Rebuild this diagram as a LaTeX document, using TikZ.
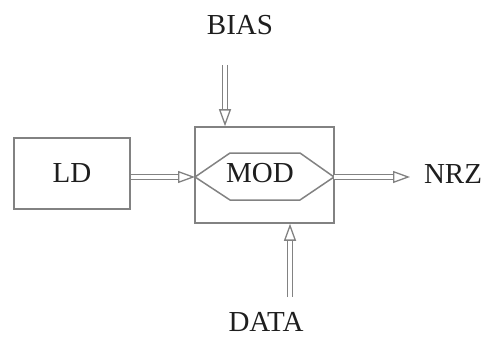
\documentclass[tikz,border=0pt]{standalone}
\usepackage{fontspec}
\setmainfont{Liberation Serif}
\usetikzlibrary{arrows.meta}
\definecolor{kasumi}{RGB}{130,130,130}
\definecolor{sumi}{RGB}{30,30,30}

\begin{document}
\begin{tikzpicture}[x=1pt, y=-1pt,
    lbl/.style={text=sumi, font=\fontsize{29}{32}\selectfont, inner sep=2pt},
    blok/.style={draw=kasumi, line width=1.5pt, inner sep=0pt},
    dbl/.style={draw=kasumi, line width=1.3pt, double=white, double distance=3.6pt,
        -{Triangle[open, length=17pt, width=12pt]}}]
    \useasboundingbox (0, 0) rectangle (486, 339);

    \node[blok, minimum width=116pt, minimum height=71pt] (ld) at (72, 173.5) {};
    \node[lbl] at (ld.center) {LD};
    \node[blok, minimum width=139pt, minimum height=96pt] (modbox) at (264.5, 175) {};

    % hexagon of the modulator
    \coordinate (hexl) at (195, 177);
    \coordinate (hexr) at (334, 177);
    \draw[kasumi, line width=1.5pt] (hexl) -- (230, 153) -- (300, 153) -- (hexr)
        -- (300, 200) -- (230, 200) -- cycle;
    \node[lbl] (mod) at (260, 173) {MOD};

    \node[lbl] (bias) at (240, 25) {BIAS};
    \node[lbl] (nrz) at (453, 174) {NRZ};
    \node[lbl] (data) at (266, 322) {DATA};

    \coordinate (biasin) at (225, 65);
    \coordinate (datain) at (290, 297);
    \coordinate (nrzin) at (410, 177);

    \draw[dbl] (ld.east |- hexl) -- (hexl);
    \draw[dbl] (hexr) -- (nrzin);
    \draw[dbl] (biasin) -- (biasin |- modbox.north);
    \draw[dbl] (datain) -- (datain |- modbox.south);
\end{tikzpicture}
\end{document}
